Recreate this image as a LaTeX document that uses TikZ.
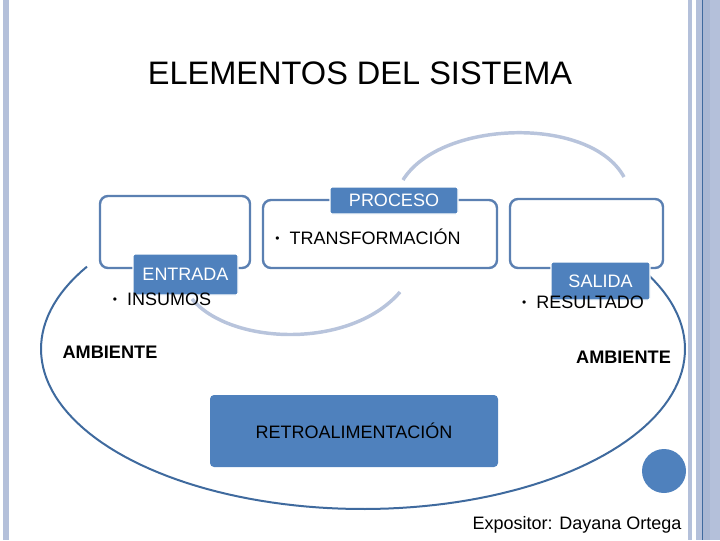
\documentclass[tikz,border=0pt]{standalone}
\usepackage{fontspec}
\setmainfont{Liberation Sans}
\usetikzlibrary{positioning}
\definecolor{accent}{HTML}{4F81BD}
\definecolor{framec}{HTML}{5B80B2}
\definecolor{ringc}{HTML}{3F6A9E}
\definecolor{softc}{HTML}{B8C4DC}
\definecolor{barc}{HTML}{B4C0DA}
\definecolor{barc2}{HTML}{A9B7D3}
\newcommand{\bul}{\raisebox{0.12em}{\small\textbullet}\ \ }

\begin{document}
\begin{tikzpicture}[x=0.75pt,y=-0.75pt,
    frame/.style={draw=framec,line width=1.8pt,rounded corners=6pt,fill=white},
    tag/.style={fill=accent,draw=white,line width=1pt,rounded corners=1.5pt,
      text=white,font=\fontsize{13.5}{15}\selectfont},
    item/.style={inner sep=0pt,font=\fontsize{13.5}{15}\selectfont},
    amb/.style={inner sep=0pt,font=\fontsize{13.6}{15}\selectfont\bfseries},
    soft/.style={draw=softc,line width=2.6pt}]
  \useasboundingbox (0,0) rectangle (720,540);

  % side bars
  \fill[barc] (3,0) rectangle (9,540);
  \fill[barc] (688,0) rectangle (692,540);
  \fill[barc] (696,0) rectangle (720,540);
  \fill[barc2] (703,0) rectangle (710,540);
  \draw[ringc,line width=0.6pt] (702,0) -- (702,540);

  \node[inner sep=0pt,font=\fontsize{24.4}{28}\selectfont] (title) at (360,73) {ELEMENTOS DEL SISTEMA};

  % outer ring
  \draw[ringc,line width=1.5pt] plot[domain=211:-38,samples=120] ({363+322*cos(\x)},{349+160*sin(\x)});

  % light arcs
  \draw[soft] (403,180) .. controls (440,120) and (590,115) .. (624,177);
  \draw[soft] (192,299) .. controls (230,345) and (350,350) .. (400,292);

  % frames
  \node[frame,minimum width=112.5pt,minimum height=54pt] (inbox) at (175,232) {};
  \node[frame,minimum width=175.5pt,minimum height=51pt] (procbox) at (380,234) {};
  \node[frame,minimum width=114.75pt,minimum height=51.75pt] (outbox) at (586.5,233.5) {};

  % tags
  \node[tag,minimum width=78.75pt,minimum height=30.75pt] (entrada) at (185.5,274.5) {ENTRADA};
  \node[tag,minimum width=96pt,minimum height=20.25pt] (proceso) at (394,200.5) {PROCESO};
  \node[tag,minimum width=74.25pt,minimum height=28.5pt] (salida) at (600.5,281) {SALIDA};

  \node[item] (insumos) at (162,299) {\bul INSUMOS};
  \node[item] (transf) at (368,237) {\bul TRANSFORMACIÓN};
  \node[item] (result) at (583,302) {\bul RESULTADO};

  \node[amb] (amb1) at (110,352) {AMBIENTE};
  \node[amb] (amb2) at (623.5,357) {AMBIENTE};

  \node[fill=accent,rounded corners=3pt,minimum width=216pt,minimum height=54pt,
    font=\fontsize{13.5}{15}\selectfont] (retro) at (354,431) {RETROALIMENTACIÓN};

  \node[circle,fill=accent,minimum size=33pt,inner sep=0pt] (dot) at (664,471) {};

  \node[inner sep=0pt,font=\fontsize{13.5}{15}\selectfont] (expo) at (577,525) {Expositor: Dayana Ortega};
\end{tikzpicture}
\end{document}
